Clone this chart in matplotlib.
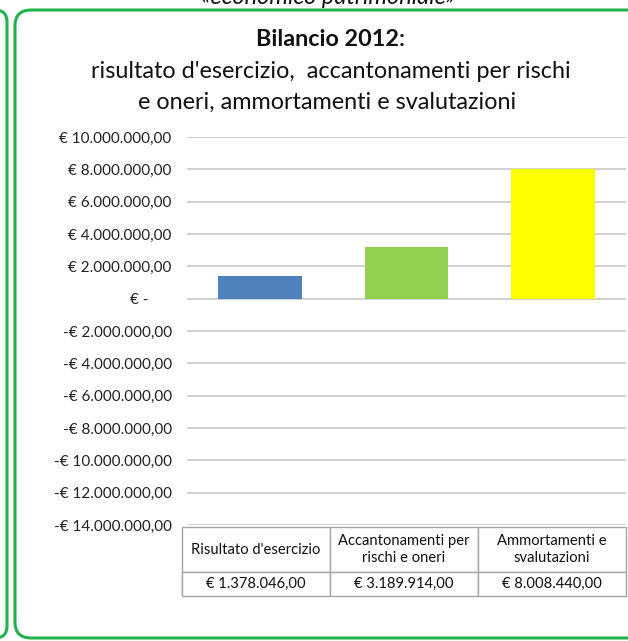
import matplotlib
matplotlib.use("Agg")
import matplotlib.pyplot as plt
from matplotlib.patches import FancyBboxPatch
from matplotlib.ticker import FuncFormatter, MultipleLocator

plt.rcParams['font.family'] = ['Lato', 'DejaVu Sans']

# data
categories = ["Risultato d'esercizio", "Accantonamenti per\nrischi e oneri", "Ammortamenti e\nsvalutazioni"]
values = [1378046.00, 3189914.00, 8008440.00]
bar_colors = ['#4F81BD', '#92D050', '#FFFF00']
y_min, y_max, y_step = -14000000, 10000000, 2000000

W, H = 628, 641


def euro(v):
    s = f"{abs(v):,.2f}".replace(",", "X").replace(".", ",").replace("X", ".")
    if v == 0:
        return "€ -"
    return ("-€ " if v < 0 else "€ ") + s


def euro_tick(v, pos):
    if abs(v) < 1:
        return "€ -      "
    return euro(v)


fig = plt.figure(figsize=(W / 100, H / 100), dpi=100)

# background frame (green rounded boxes)
bg = fig.add_axes([0, 0, 1, 1])
bg.set_xlim(0, W)
bg.set_ylim(H, 0)
bg.axis('off')
bg.add_patch(FancyBboxPatch((-120, 10), 127, 628, boxstyle="round,pad=0,rounding_size=12",
                            fill=False, ec='#22B14C', lw=2.2))
bg.add_patch(FancyBboxPatch((15, 10), 680, 628, boxstyle="round,pad=0,rounding_size=16",
                            fill=False, ec='#22B14C', lw=2.2))
bg.text(328, -3, "«economico patrimoniale»", ha='center', va='center', fontsize=17,
        style='italic', color='#111111')

# titles
bg.text(331, 40, "Bilancio 2012:", ha='center', va='center', fontsize=16.8, weight='bold', color='#111111')
bg.text(331, 71, "risultato d'esercizio,  accantonamenti per rischi", ha='center', va='center',
        fontsize=16.8, color='#111111')
bg.text(327, 102, "e oneri, ammortamenti e svalutazioni", ha='center', va='center',
        fontsize=16.8, color='#111111')

# chart
left, right, top, bottom = 187, 626, 137, 525
ax = fig.add_axes([left / W, 1 - bottom / H, (right - left) / W, (bottom - top) / H])
x = range(len(values))
ax.bar(x, values, width=0.57, color=bar_colors, zorder=3)
ax.set_xlim(-0.5, len(values) - 0.5)
ax.set_ylim(y_min, y_max)
ax.yaxis.set_major_locator(MultipleLocator(y_step))
ax.yaxis.set_major_formatter(FuncFormatter(euro_tick))
ax.grid(axis='y', color='#C4C4C4', lw=1.1, zorder=0)
ax.tick_params(axis='y', length=0, pad=11, labelsize=11, labelcolor='#222222')
ax.tick_params(axis='x', length=0, labelbottom=False)
for s in ax.spines.values():
    s.set_visible(False)

# data table below the plot
tbl = ax.table(cellText=[[euro(v) for v in values]], colLabels=categories, rowLabels=[''],
               cellLoc='center', bbox=[-5 / 439, -71 / 388, 1 + 5 / 439, 69 / 388])
tbl.auto_set_font_size(False)
for (r, c), cell in tbl.get_celld().items():
    cell.set_edgecolor('#A6A6A6')
    cell.set_linewidth(1)
    cell.get_text().set_fontsize(10.6)
    cell.get_text().set_color('#111111')
    cell.set_height(45 if r == 0 else 24)
    cell.set_width(5 if c == -1 else 146)

fig.savefig('out.png', dpi=100)
